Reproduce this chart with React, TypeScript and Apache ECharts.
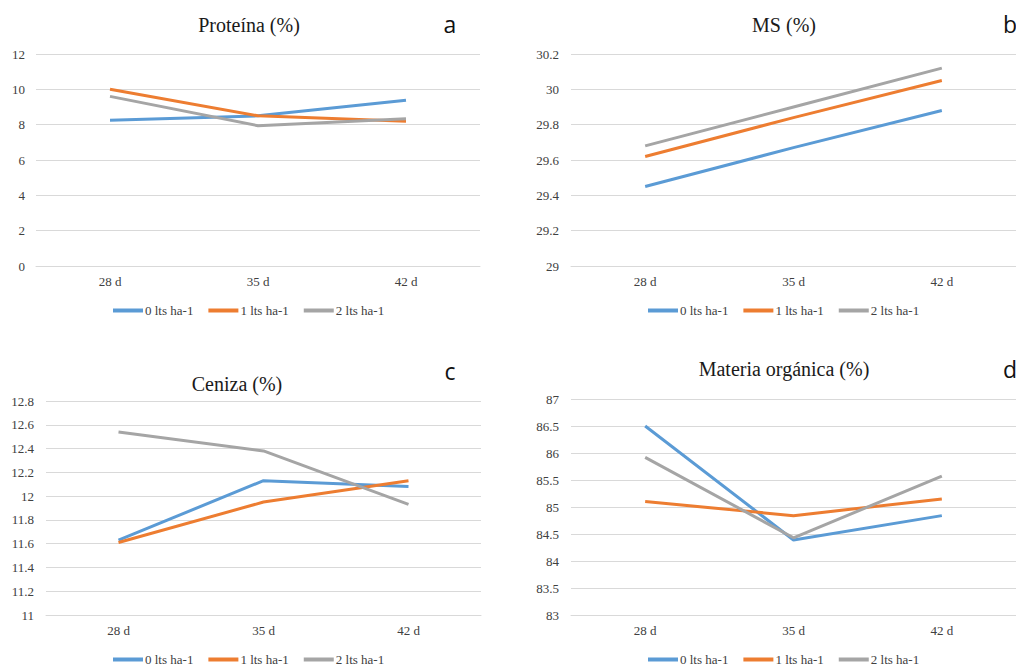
import React, { useEffect, useRef } from "react";
import * as echarts from "echarts";

const categories = ["28 d", "35 d", "42 d"];
const seriesNames = ["0 lts ha-1", "1 lts ha-1", "2 lts ha-1"];
const colors = ["#5B9BD5", "#ED7D31", "#A5A5A5"];

const proteina0 = [8.25, 8.5, 9.38];
const proteina1 = [10.0, 8.5, 8.2];
const proteina2 = [9.6, 7.94, 8.33];

const ms0 = [29.45, 29.67, 29.88];
const ms1 = [29.62, 29.84, 30.05];
const ms2 = [29.68, 29.9, 30.12];

const ceniza0 = [11.63, 12.13, 12.08];
const ceniza1 = [11.61, 11.95, 12.13];
const ceniza2 = [12.54, 12.38, 11.93];

const mo0 = [86.5, 84.39, 84.84];
const mo1 = [85.1, 84.84, 85.15];
const mo2 = [85.92, 84.43, 85.57];

const panelTitles = ["Proteína (%)", "MS (%)", "Ceniza (%)", "Materia orgánica (%)"];
const panelLetters = ["a", "b", "c", "d"];
const yRanges = [
  { min: 0, max: 12, interval: 2 },
  { min: 29, max: 30.2, interval: 0.2 },
  { min: 11, max: 12.8, interval: 0.2 },
  { min: 83, max: 87, interval: 0.5 },
];
const panelData = [
  [proteina0, proteina1, proteina2],
  [ms0, ms1, ms2],
  [ceniza0, ceniza1, ceniza2],
  [mo0, mo1, mo2],
];

const grids = [
  { left: 36, width: 444, top: 54, height: 212 },
  { left: 571, width: 453, top: 54, height: 212 },
  { left: 46, width: 435, top: 401, height: 214 },
  { left: 571, width: 453, top: 399, height: 216 },
];
const titlePos = [
  { x: 249, y: 25 },
  { x: 784, y: 25 },
  { x: 237, y: 384 },
  { x: 784, y: 369 },
];
const letterPos = [
  { x: 450, y: 24 },
  { x: 1010, y: 24 },
  { x: 450, y: 371 },
  { x: 1010, y: 369 },
];
const legendPos = [
  { left: 108, top: 299 },
  { left: 643, top: 299 },
  { left: 108, top: 648 },
  { left: 643, top: 648 },
];

const serif = "Liberation Serif, Times New Roman, serif";

export default function App() {
  const ref = useRef<HTMLDivElement>(null);
  useEffect(() => {
    if (!ref.current) return;
    const chart = echarts.init(ref.current, undefined, { renderer: "svg" });
    const series: any[] = [];
    panelData.forEach((set, gi) => {
      set.forEach((vals, si) => {
        series.push({
          type: "line",
          name: seriesNames[si],
          xAxisIndex: gi,
          yAxisIndex: gi,
          data: vals,
          symbol: "none",
          lineStyle: { width: 3, color: colors[si] },
          itemStyle: { color: colors[si] },
        });
      });
    });
    const graphics: any[] = [];
    panelTitles.forEach((t, i) => {
      graphics.push({
        type: "text",
        x: titlePos[i].x,
        y: titlePos[i].y,
        style: {
          text: t,
          textAlign: "center",
          textVerticalAlign: "middle",
          fontFamily: serif,
          fontSize: 20,
          fill: "#1a1a1a",
        },
      });
      graphics.push({
        type: "text",
        x: letterPos[i].x,
        y: letterPos[i].y,
        style: {
          text: panelLetters[i],
          textAlign: "center",
          textVerticalAlign: "middle",
          fontFamily: "Open Sans",
          fontSize: 23,
          fill: "#111",
        },
      });
    });
    chart.setOption({
      animation: false,
      backgroundColor: "#ffffff",
      color: colors,
      grid: grids.map((g) => ({ ...g, containLabel: false })),
      xAxis: grids.map((_, i) => ({
        type: "category",
        gridIndex: i,
        data: categories,
        boundaryGap: true,
        axisLine: { show: true, lineStyle: { color: "#d9d9d9", width: 1 } },
        axisTick: { show: false },
        axisLabel: { fontFamily: serif, fontSize: 13, color: "#404040", margin: 9 },
      })),
      yAxis: yRanges.map((r, i) => ({
        type: "value",
        gridIndex: i,
        min: r.min,
        max: r.max,
        interval: r.interval,
        axisLine: { show: false },
        axisTick: { show: false },
        splitLine: { show: true, lineStyle: { color: "#d9d9d9", width: 1 } },
        axisLabel: {
          fontFamily: serif,
          fontSize: 13,
          color: "#404040",
          margin: i === 0 ? 11 : 12,
          formatter: (v: number) => String(Math.round(v * 100) / 100),
        },
      })),
      legend: legendPos.map((p) => ({
        left: p.left,
        top: p.top,
        orient: "horizontal",
        data: seriesNames,
        icon: "rect",
        itemWidth: 30,
        itemHeight: 4,
        itemGap: 15,
        textStyle: { fontFamily: serif, fontSize: 13, color: "#404040", padding: [0, 0, 0, -3] },
        selectedMode: false,
      })),
      graphic: graphics,
      series,
    });
    return () => chart.dispose();
  }, []);
  return (
    <div
      ref={ref}
      style={{ position: "fixed", left: 0, top: 0, width: 1016, height: 667, background: "#fff" }}
    />
  );
}
